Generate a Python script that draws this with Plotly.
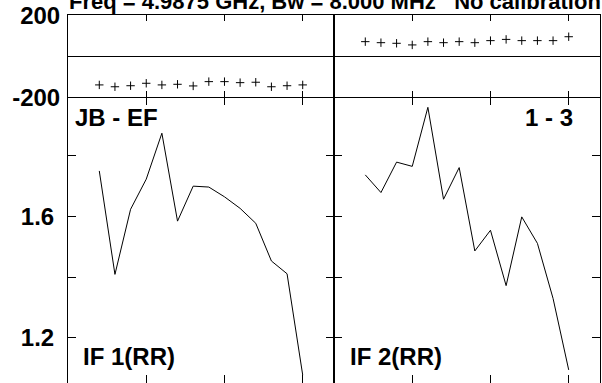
import plotly.graph_objects as go
from plotly.subplots import make_subplots

channels = [2, 3, 4, 5, 6, 7, 8, 9, 10, 11, 12, 13, 14, 15]

phase_if1 = [-141, -150, -145, -133, -141, -138, -146, -125, -125, -130, -128, -150, -145, -141]
phase_if2 = [70, 65, 62, 54, 70, 65, 70, 65, 75, 81, 75, 75, 75, 94]

amp_if1 = [1.749, 1.409, 1.623, 1.722, 1.873, 1.584, 1.699, 1.696, 1.664, 1.626, 1.577, 1.453, 1.411, 1.078]
amp_if2 = [1.736, 1.678, 1.778, 1.764, 1.958, 1.656, 1.760, 1.486, 1.554, 1.372, 1.598, 1.511, 1.330, 1.095]

title_text = "Freq = 4.9875 GHz, Bw = 8.000 MHz\u00a0\u00a0\u00a0No calibration"
baseline_label = "JB - EF"
source_label = "1 - 3"
if_labels = ["IF 1(RR)", "IF 2(RR)"]

phase_ticks = [-200, 200]
phase_ticktext = ["-200", "200"]
amp_ticks = [1.2, 1.4, 1.6, 1.8]
amp_ticktext = ["1.2", "", "1.6", ""]
x_ticks = [5, 10, 15]

W, H = 602, 383
ML, MR, MT, MB = 68, 2, 15, 0
split = 1 - 82 / (H - MT - MB)

fig = make_subplots(rows=2, cols=2, horizontal_spacing=0, vertical_spacing=0,
                    row_heights=[1 - split, split])

FONT = dict(family="Liberation Sans, Arial, sans-serif", size=24, color="black", weight="bold")
TFONT = dict(FONT, size=22)

mk = dict(symbol="cross-thin-open", size=6, line=dict(width=1, color="black"), color="black")
fig.add_trace(go.Scatter(x=channels, y=phase_if1, mode="markers", marker=mk), row=1, col=1)
fig.add_trace(go.Scatter(x=channels, y=phase_if2, mode="markers", marker=mk), row=1, col=2)
fig.add_trace(go.Scatter(x=channels, y=amp_if1, mode="lines", line=dict(color="black", width=1)), row=2, col=1)
fig.add_trace(go.Scatter(x=channels, y=amp_if2, mode="lines", line=dict(color="black", width=1)), row=2, col=2)

for c in (1, 2):
    # phase row
    fig.update_xaxes(row=1, col=c, range=[0, 17], tickvals=x_ticks, ticks="inside", ticklen=6,
                     tickcolor="black", showticklabels=False, showline=True, linecolor="black",
                     linewidth=1, mirror="ticks", showgrid=False, zeroline=False, automargin=False)
    fig.update_yaxes(row=1, col=c, range=[-200, 200], tickvals=phase_ticks, ticktext=phase_ticktext,
                     ticks="", showticklabels=(c == 1), tickfont=FONT, ticklabelstandoff=2,
                     ticklabelshift=1, ticklabeloverflow="allow", automargin=False,
                     showline=True, linecolor="black", linewidth=1, mirror=True,
                     showgrid=False, zeroline=True, zerolinecolor="black", zerolinewidth=1)
    # amplitude row
    fig.update_xaxes(row=2, col=c, range=[0, 17], tickvals=x_ticks, ticks="inside", ticklen=8,
                     tickcolor="black", showticklabels=False, showline=False, automargin=False,
                     mirror="ticks", showgrid=False, zeroline=False)
    fig.update_yaxes(row=2, col=c, range=[1.052, 1.992], tickvals=amp_ticks, ticktext=amp_ticktext,
                     ticks="inside", ticklen=8, tickcolor="black", automargin=False,
                     showticklabels=(c == 1), tickfont=FONT, ticklabelstandoff=8,
                     ticklabeloverflow="allow",
                     showline=True, linecolor="black", linewidth=1, mirror="ticks",
                     showgrid=False, zeroline=False)

def px(xp):
    return (xp - ML) / (W - ML - MR)

def py(yp):
    return (H - MB - yp) / (H - MT - MB)

anns = [
    dict(text=title_text, x=px(68), y=py(0), xanchor="left", yanchor="middle", yshift=-1, font=TFONT),
    dict(text=baseline_label, x=px(74), y=py(118), xanchor="left", yanchor="middle", font=FONT),
    dict(text=source_label, x=px(574), y=py(117), xanchor="right", yanchor="middle", font=FONT),
    dict(text=if_labels[0], x=px(82), y=py(356), xanchor="left", yanchor="middle", font=FONT),
    dict(text=if_labels[1], x=px(349), y=py(356), xanchor="left", yanchor="middle", font=FONT),
]
for a in anns:
    fig.add_annotation(xref="paper", yref="paper", showarrow=False, borderpad=0, **a)

fig.update_layout(width=W, height=H, margin=dict(l=ML, r=MR, t=MT, b=MB, pad=0, autoexpand=False),
                  paper_bgcolor="white", plot_bgcolor="white", showlegend=False)

fig.write_html("out.html", config={"displayModeBar": False},
               post_script="document.body.style.margin='0';document.body.style.overflow='hidden';")
